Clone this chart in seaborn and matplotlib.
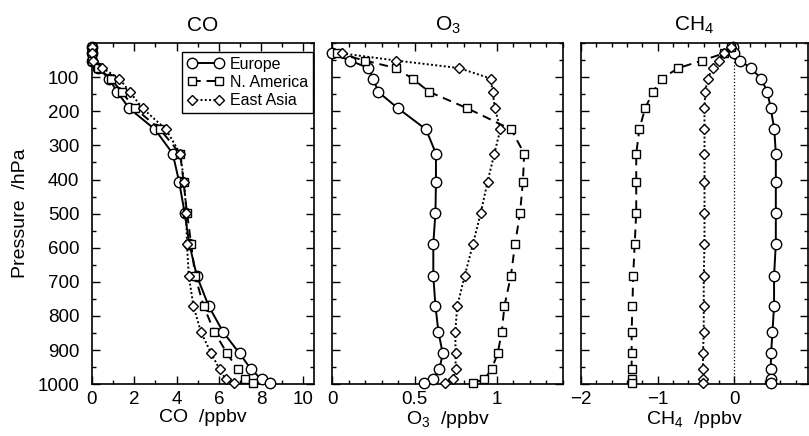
import numpy as np
import pandas as pd
import matplotlib
matplotlib.use('Agg')
import matplotlib.pyplot as plt
import seaborn as sns
from matplotlib.ticker import MultipleLocator, FuncFormatter

# model levels (hPa)
levels = [10, 30, 51, 73, 104, 143, 191, 253, 324, 406, 497,
          588, 683, 771, 847, 910, 957, 986, 996]
regions = ['Europe', 'N. America', 'East Asia']

co_europe = [0, 0, 0, 0.29, 0.81, 1.19, 1.76, 2.98, 3.82, 4.12, 4.38,
             4.6, 4.96, 5.52, 6.2, 6.98, 7.53, 8.02, 8.4]
co_namerica = [0, 0, 0, 0.3, 0.89, 1.40, 2.03, 3.22, 4.17, 4.33, 4.49,
               4.69, 4.88, 5.28, 5.79, 6.39, 6.9, 7.23, 7.61]
co_eastasia = [0, 0, 0.05, 0.49, 1.29, 1.79, 2.39, 3.5, 4.17, 4.36, 4.46,
               4.49, 4.58, 4.8, 5.15, 5.64, 6.04, 6.33, 6.74]

# O3 starts at the second level
o3_levels = levels[1:]
o3_europe = [0.0, 0.11, 0.22, 0.25, 0.28, 0.40, 0.57, 0.63, 0.63, 0.627,
             0.614, 0.614, 0.627, 0.645, 0.671, 0.651, 0.61, 0.555]
o3_namerica = [0.03, 0.20, 0.386, 0.488, 0.59, 0.82, 1.086, 1.165, 1.157, 1.14,
               1.11, 1.084, 1.045, 1.029, 1.004, 0.967, 0.922, 0.855]
o3_eastasia = [0.06, 0.39, 0.77, 0.963, 0.973, 0.988, 1.02, 0.984, 0.943, 0.902,
               0.855, 0.804, 0.759, 0.747, 0.749, 0.749, 0.733, 0.682]

ch4_europe = [-0.013, 0, 0.074, 0.213, 0.348, 0.43, 0.474, 0.52, 0.54, 0.54, 0.54,
              0.54, 0.517, 0.517, 0.496, 0.478, 0.474, 0.474, 0.474]
ch4_namerica = [-0.05, -0.14, -0.42, -0.73, -0.95, -1.06, -1.165, -1.24, -1.28, -1.28, -1.28,
                -1.30, -1.32, -1.33, -1.34, -1.34, -1.34, -1.34, -1.34]
ch4_eastasia = [-0.04, -0.13, -0.2, -0.28, -0.35, -0.38, -0.39, -0.39, -0.39, -0.39, -0.39,
                -0.39, -0.40, -0.40, -0.40, -0.41, -0.41, -0.41, -0.41]


def profile_frame(levs, series):
    rows = []
    for region, vals in zip(regions, series):
        for p, v in zip(levs, vals):
            rows.append({'region': region, 'p': p, 'value': v})
    return pd.DataFrame(rows)


sns.set_style('ticks')
plt.rcParams['font.family'] = ['Liberation Sans', 'DejaVu Sans']
plt.rcParams['mathtext.fontset'] = 'custom'
plt.rcParams['mathtext.rm'] = 'Liberation Sans'
plt.rcParams['mathtext.default'] = 'regular'
plt.rcParams['axes.linewidth'] = 1.2
for key in ['text.color', 'axes.labelcolor', 'xtick.color', 'ytick.color',
            'xtick.labelcolor', 'ytick.labelcolor', 'axes.edgecolor']:
    plt.rcParams[key] = 'black'

markers = {'Europe': 'o', 'N. America': 's', 'East Asia': 'D'}
dashes = {'Europe': '', 'N. America': (4.5, 3), 'East Asia': (1, 1.2)}
msizes = {'o': 7.5, 's': 5.8, 'D': 5.3}

fig = plt.figure(figsize=(8.09, 4.36), dpi=100)
ax1 = fig.add_axes([0.1137, 0.119, 0.2744, 0.782])
ax2 = fig.add_axes([0.4104, 0.119, 0.2855, 0.782])
ax3 = fig.add_axes([0.7182, 0.119, 0.2806, 0.782])

panels = [
    (ax1, profile_frame(levels, [co_europe, co_namerica, co_eastasia]), 'CO', (0, 10.5), 2, 1),
    (ax2, profile_frame(o3_levels, [o3_europe, o3_namerica, o3_eastasia]), 'O$_3$', (0, 1.4), 0.5, 0.1),
    (ax3, profile_frame(levels, [ch4_europe, ch4_namerica, ch4_eastasia]), 'CH$_4$', (-2, 0.96), 1, 0.2),
]

for ax, df, name, xlim, major, minor in panels:
    if name.startswith('CH'):
        ax.axvline(0, color='black', ls=':', lw=0.9)
    sns.lineplot(data=df, x='value', y='p', style='region', markers=markers,
                 dashes=dashes, sort=False, estimator=None, color='black',
                 lw=1.4, markerfacecolor='white', markeredgecolor='black',
                 mew=1.0, legend=False, clip_on=False, ax=ax, zorder=3)
    for line in ax.lines:
        m = line.get_marker()
        if m in msizes:
            line.set_markersize(msizes[m])
    ax.set_xlim(*xlim)
    ax.set_ylim(1000, 0)
    ax.xaxis.set_major_locator(MultipleLocator(major))
    ax.xaxis.set_minor_locator(MultipleLocator(minor))
    ax.xaxis.set_major_formatter(FuncFormatter(lambda v, pos: '{:g}'.format(v).replace('-', '\u2212')))
    ax.set_yticks(np.arange(100, 1001, 100))
    ax.yaxis.set_minor_locator(MultipleLocator(50))
    ax.tick_params(which='both', direction='in', top=True, right=True,
                   labelsize=13.5, width=1.0, color='black', labelcolor='black')
    ax.tick_params(which='major', length=6)
    ax.tick_params(which='minor', length=3)
    ax.tick_params(axis='x', pad=5)
    ax.tick_params(axis='y', pad=9)
    ax.set_title(name, fontsize=15, pad=9, color='black')
    ax.set_xlabel(name + '  /ppbv', fontsize=14, labelpad=1, color='black')
    ax.set_ylabel('')
    for s in ax.spines.values():
        s.set_visible(True)
        s.set_color('black')

ax1.set_ylabel('Pressure  /hPa', fontsize=14, labelpad=6, color='black')
ax2.tick_params(axis='y', labelleft=False)
ax3.tick_params(axis='y', labelleft=False)

leg = ax1.legend(handles=ax1.lines[:3], labels=regions, loc='upper right',
                 bbox_to_anchor=(0.995, 0.974), borderaxespad=0, numpoints=2,
                 fontsize=11.5, frameon=True, fancybox=False, framealpha=1,
                 edgecolor='black', handlelength=2.3, handletextpad=0.4,
                 labelspacing=0.2, borderpad=0.3)
leg.get_frame().set_linewidth(1.0)
for t in leg.get_texts():
    t.set_color('black')

fig.savefig('out.png', dpi=100)
